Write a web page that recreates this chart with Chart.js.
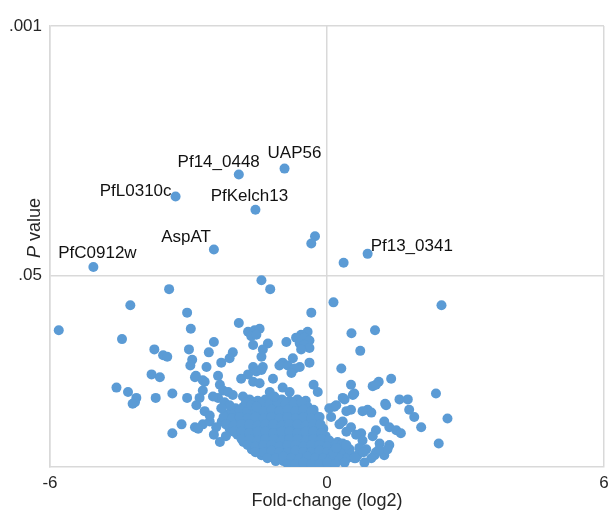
<!DOCTYPE html>
<html>
<head>
<meta charset="utf-8">
<script src="https://cdn.jsdelivr.net/npm/chart.js@4/dist/chart.umd.min.js"></script>
<style>
  html, body { margin: 0; padding: 0; background: #fff; }
  #wrap { width: 609px; height: 513px; position: relative; }
</style>
</head>
<body>
<div id="wrap"><canvas id="volcano"></canvas></div>
<script>
// x = log2 fold-change, y = -log10(P)
const xTickValues = [-6, 0, 6];
const yTickValues = [1.30103, 3];
const yTickLabels = ['.05', '.001'];

const geneNames = ['PfC0912w', 'AspAT', 'PfL0310c', 'Pf14_0448', 'UAP56', 'PfKelch13', 'Pf13_0341'];
const geneFoldChange = [-5.06, -2.45, -3.28, -1.91, -0.92, -1.55, 0.88];
const geneNegLogP = [1.36, 1.48, 1.84, 1.99, 2.03, 1.75, 1.45];

const nearCutoff = [[-0.26, 1.57], [-0.34, 1.52], [0.36, 1.39]];

const leftScatter = [
    [-5.81, 0.93], [-4.26, 1.10], [-4.44, 0.87], [-3.42, 1.21], [-3.03, 1.05], [-2.95, 0.94],
    [-3.74, 0.80], [-3.55, 0.76], [-3.46, 0.75], [-2.99, 0.80], [-2.45, 0.85], [-2.56, 0.78],
    [-2.92, 0.73], [-2.96, 0.69], [-2.61, 0.68], [-4.56, 0.54], [-4.31, 0.51], [-4.13, 0.47],
    [-4.16, 0.44], [-4.21, 0.43], [-3.71, 0.47], [-3.35, 0.50], [-3.03, 0.47], [-3.80, 0.63],
    [-3.62, 0.61], [-2.84, 0.62], [-2.69, 0.59], [-2.36, 0.62], [-3.35, 0.23], [-3.15, 0.29],
    [-2.79, 0.26], [-2.32, 0.17]
];

const leftWing = [
    [-2.86, 0.61], [-2.65, 0.58], [-2.69, 0.52], [-2.76, 0.47], [-2.83, 0.42], [-2.86, 0.27],
    [-2.69, 0.29], [-2.54, 0.31], [-2.40, 0.27], [-2.65, 0.38], [-2.54, 0.35], [-2.32, 0.56],
    [-2.25, 0.52], [-2.14, 0.51], [-2.04, 0.49], [-2.36, 0.47], [-2.22, 0.44], [-2.11, 0.42],
    [-2.29, 0.40], [-2.45, 0.22], [-2.19, 0.21], [-2.47, 0.48]
];

const midScatter = [
    [-1.91, 0.98], [-2.04, 0.78], [-2.11, 0.74], [-2.29, 0.71], [-1.42, 1.27], [-1.23, 1.21],
    [-0.34, 1.05], [-1.71, 0.92], [-1.57, 0.93], [-1.46, 0.94], [-1.64, 0.89], [-1.53, 0.90],
    [-1.60, 0.83], [-1.28, 0.84], [-1.39, 0.80], [-1.42, 0.75], [-0.88, 0.85], [-0.42, 0.92],
    [-0.56, 0.90], [-0.67, 0.88], [-0.49, 0.88], [-0.38, 0.86], [-0.59, 0.84], [-0.49, 0.83],
    [-0.38, 0.81], [-0.56, 0.80], [-0.38, 0.71], [-0.74, 0.74], [-0.96, 0.71], [-1.03, 0.69],
    [-0.59, 0.68], [-1.60, 0.68], [-1.39, 0.68], [-1.86, 0.60], [-1.71, 0.63], [-1.53, 0.65],
    [-1.60, 0.58], [-1.46, 0.57], [-1.82, 0.48], [-1.75, 0.44], [-1.64, 0.42], [-1.53, 0.41],
    [-1.42, 0.66], [-1.24, 0.51], [-1.17, 0.60], [-1.14, 0.48], [-0.96, 0.54], [-0.81, 0.51],
    [-0.85, 0.69], [-0.70, 0.67], [-0.77, 0.64], [-0.29, 0.56], [-0.20, 0.51]
];

const rightScatter = [
    [0.14, 1.12], [0.53, 0.91], [1.04, 0.93], [0.72, 0.79], [0.31, 0.67], [2.48, 1.10],
    [0.52, 0.56], [0.56, 0.49], [0.99, 0.55], [1.12, 0.58], [1.39, 0.60], [0.38, 0.46],
    [0.16, 0.41], [0.09, 0.34], [0.52, 0.39], [0.34, 0.31], [0.52, 0.27], [0.88, 0.39],
    [0.96, 0.37], [1.26, 0.43], [1.57, 0.46], [1.75, 0.46], [1.78, 0.39], [1.89, 0.34],
    [2.04, 0.27], [2.36, 0.50], [2.61, 0.33], [2.42, 0.16], [1.24, 0.31], [1.35, 0.27],
    [1.50, 0.25], [1.06, 0.25], [0.99, 0.21], [0.74, 0.23], [0.77, 0.18], [1.14, 0.16],
    [1.35, 0.15], [0.85, 0.12], [1.03, 0.08], [0.34, 0.16], [0.49, 0.12], [0.13, 0.10],
    [0.59, 0.50], [1.06, 0.56], [0.42, 0.38], [0.77, 0.38], [1.28, 0.42], [1.60, 0.23],
    [0.42, 0.24], [0.63, 0.22], [0.27, 0.29], [0.20, 0.13], [0.42, 0.15], [0.70, 0.13],
    [1.06, 0.10], [0.05, 0.40], [0.20, 0.42], [0.34, 0.47], [0.59, 0.06], [0.81, 0.03],
    [0.38, 0.03], [1.24, 0.08], [1.31, 0.12], [0.62, 0.06], [0.79, 0.10], [0.96, 0.06],
    [1.13, 0.12]
];

const denseCore = [
    [-1.68, 0.46], [-1.50, 0.45], [-1.33, 0.46], [-1.16, 0.44], [-0.98, 0.46], [-0.81, 0.45], [-0.64, 0.46], [-0.46, 0.45],
    [-1.98, 0.40], [-1.81, 0.41], [-1.63, 0.40], [-1.46, 0.41], [-1.29, 0.40], [-1.11, 0.41], [-0.94, 0.40], [-0.77, 0.41],
    [-0.59, 0.40], [-0.42, 0.41], [-0.29, 0.39],
    [-2.15, 0.36], [-1.98, 0.35], [-1.81, 0.36], [-1.63, 0.35], [-1.46, 0.36], [-1.29, 0.35], [-1.11, 0.36], [-0.94, 0.35],
    [-0.77, 0.36], [-0.59, 0.35], [-0.42, 0.36], [-0.25, 0.35],
    [-2.28, 0.31], [-2.11, 0.32], [-1.94, 0.31], [-1.76, 0.30], [-1.59, 0.31], [-1.42, 0.32], [-1.24, 0.31], [-1.07, 0.30],
    [-0.90, 0.31], [-0.72, 0.32], [-0.55, 0.31], [-0.38, 0.30], [-0.21, 0.31],
    [-2.11, 0.26], [-1.94, 0.27], [-1.76, 0.26], [-1.59, 0.27], [-1.42, 0.26], [-1.24, 0.27], [-1.07, 0.26], [-0.90, 0.27],
    [-0.72, 0.26], [-0.55, 0.27], [-0.38, 0.26], [-0.21, 0.27], [-0.08, 0.26],
    [-1.94, 0.22], [-1.76, 0.21], [-1.59, 0.22], [-1.42, 0.21], [-1.24, 0.22], [-1.07, 0.21], [-0.90, 0.22], [-0.72, 0.21],
    [-0.55, 0.22], [-0.38, 0.21], [-0.21, 0.22], [-0.03, 0.21],
    [-1.81, 0.17], [-1.63, 0.16], [-1.46, 0.17], [-1.29, 0.16], [-1.11, 0.17], [-0.94, 0.16], [-0.77, 0.17], [-0.59, 0.16],
    [-0.42, 0.17], [-0.25, 0.16], [-0.08, 0.17], [0.05, 0.16], [0.23, 0.17],
    [-1.63, 0.12], [-1.46, 0.13], [-1.29, 0.12], [-1.11, 0.13], [-0.94, 0.12], [-0.77, 0.13], [-0.59, 0.12], [-0.42, 0.13],
    [-0.25, 0.12], [-0.08, 0.13], [0.10, 0.12], [0.27, 0.13],
    [-1.42, 0.08], [-1.24, 0.08], [-1.07, 0.09], [-0.90, 0.08], [-0.72, 0.08], [-0.55, 0.09], [-0.38, 0.08], [-0.21, 0.08],
    [-0.03, 0.09], [0.14, 0.08], [0.31, 0.08], [0.49, 0.09], [0.66, 0.08],
    [-1.11, 0.04], [-0.94, 0.04], [-0.77, 0.05], [-0.59, 0.04], [-0.42, 0.04], [-0.25, 0.05], [-0.08, 0.04], [0.10, 0.04],
    [0.27, 0.05],
    [-0.59, 0.01], [-0.38, 0.01], [-0.16, 0.01], [0.01, 0.01]
];

// second layer of the crowded centre, sitting between the rows above
const denseCoreFill = [
    [-1.76, 0.43], [-1.59, 0.44], [-1.42, 0.43], [-1.24, 0.43], [-1.07, 0.44], [-0.90, 0.43], [-0.72, 0.43], [-0.55, 0.44],
    [-2.06, 0.38], [-1.89, 0.39], [-1.72, 0.38], [-1.55, 0.39], [-1.37, 0.38], [-1.20, 0.39], [-1.03, 0.38], [-0.85, 0.39],
    [-0.68, 0.38], [-0.51, 0.39], [-0.34, 0.38],
    [-2.24, 0.34], [-2.06, 0.33], [-1.89, 0.34], [-1.72, 0.33], [-1.55, 0.34], [-1.37, 0.33], [-1.20, 0.34], [-1.03, 0.33],
    [-0.85, 0.34], [-0.68, 0.33], [-0.51, 0.34], [-0.34, 0.33], [-0.16, 0.34],
    [-2.19, 0.29], [-2.02, 0.28], [-1.85, 0.29], [-1.68, 0.29], [-1.50, 0.28], [-1.33, 0.29], [-1.16, 0.29], [-0.98, 0.28],
    [-0.81, 0.29], [-0.64, 0.29], [-0.46, 0.28], [-0.29, 0.29], [-0.14, 0.29],
    [-2.02, 0.24], [-1.85, 0.24], [-1.68, 0.23], [-1.50, 0.24], [-1.33, 0.24], [-1.16, 0.23], [-0.98, 0.24], [-0.81, 0.24],
    [-0.64, 0.23], [-0.46, 0.24], [-0.29, 0.24], [-0.12, 0.23],
    [-1.85, 0.19], [-1.68, 0.19], [-1.50, 0.18], [-1.33, 0.19], [-1.16, 0.19], [-0.98, 0.18], [-0.81, 0.19], [-0.64, 0.19],
    [-0.46, 0.18], [-0.29, 0.19], [-0.12, 0.19], [0.05, 0.18],
    [-1.72, 0.15], [-1.55, 0.14], [-1.37, 0.15], [-1.20, 0.15], [-1.03, 0.14], [-0.85, 0.15], [-0.68, 0.15], [-0.51, 0.14],
    [-0.34, 0.15], [-0.16, 0.15], [0.01, 0.14], [0.18, 0.15],
    [-1.55, 0.10], [-1.37, 0.10], [-1.20, 0.11], [-1.03, 0.10], [-0.85, 0.10], [-0.68, 0.11], [-0.51, 0.10], [-0.34, 0.10],
    [-0.16, 0.11], [0.01, 0.10], [0.18, 0.10], [0.36, 0.11],
    [-1.29, 0.06], [-1.11, 0.06], [-0.94, 0.07], [-0.77, 0.06], [-0.59, 0.06], [-0.42, 0.07], [-0.25, 0.06], [-0.08, 0.06],
    [0.10, 0.07], [0.27, 0.06], [0.44, 0.06],
    [-0.85, 0.02], [-0.68, 0.02], [-0.51, 0.03], [-0.34, 0.02], [-0.16, 0.02], [0.01, 0.03], [0.18, 0.02]
];

const FONT = '"Liberation Sans", Arial, sans-serif';
const TEXT_COLOR = '#262626';
const GRID_COLOR = '#d9d9d9';
const DOT_COLOR = '#5b9bd5';

const toPoints = list => list.map(p => ({ x: p[0], y: p[1] }));

// where each gene name sits relative to its dot
const labelPlacement = {
    PfC0912w:  { dx: 4,   dy: -14, align: 'center' },
    AspAT:     { dx: -3,  dy: -12, align: 'right' },
    PfL0310c:  { dx: -4,  dy: -5,  align: 'right' },
    Pf14_0448: { dx: 21,  dy: -12, align: 'right' },
    UAP56:     { dx: -17, dy: -15, align: 'left' },
    PfKelch13: { dx: -6,  dy: -13, align: 'center' },
    Pf13_0341: { dx: 3,   dy: -8,  align: 'left' }
};

const geneLabels = {
    id: 'geneLabels',
    afterDatasetsDraw(chart) {
        const { ctx, scales: { x, y } } = chart;
        ctx.save();
        ctx.font = '17px ' + FONT;
        ctx.fillStyle = '#111';
        ctx.textBaseline = 'middle';
        geneNames.forEach((name, i) => {
            const p = labelPlacement[name];
            ctx.textAlign = p.align;
            ctx.fillText(name,
                x.getPixelForValue(geneFoldChange[i]) + p.dx,
                y.getPixelForValue(geneNegLogP[i]) + p.dy);
        });
        ctx.restore();
    }
};

// y title with italic P
const yTitle = {
    id: 'yTitle',
    afterDraw(chart) {
        const ctx = chart.ctx;
        const cx = 35, cy = 228;
        ctx.save();
        ctx.translate(cx, cy);
        ctx.rotate(-Math.PI / 2);
        ctx.fillStyle = TEXT_COLOR;
        ctx.textBaseline = 'middle';
        ctx.textAlign = 'left';
        const italic = 'italic 18px ' + FONT;
        const normal = '18px ' + FONT;
        ctx.font = italic;
        const wP = ctx.measureText('P').width;
        ctx.font = normal;
        const wRest = ctx.measureText(' value').width;
        const start = -(wP + wRest) / 2;
        ctx.font = italic;
        ctx.fillText('P', start, 0);
        ctx.font = normal;
        ctx.fillText(' value', start + wP, 0);
        ctx.restore();
    }
};

const dotStyle = {
    backgroundColor: DOT_COLOR,
    borderWidth: 0,
    pointRadius: 5,
    pointHoverRadius: 5
};

new Chart(document.getElementById('volcano'), {
    type: 'scatter',
    data: {
        datasets: [
            Object.assign({ data: toPoints([].concat(denseCore, denseCoreFill, leftWing, leftScatter, midScatter, rightScatter, nearCutoff)) }, dotStyle),
            Object.assign({ data: geneFoldChange.map((v, i) => ({ x: v, y: geneNegLogP[i] })) }, dotStyle)
        ]
    },
    options: {
        responsive: true,
        maintainAspectRatio: false,
        animation: false,
        layout: { padding: { top: 26, right: 4, left: 0, bottom: 0 } },
        plugins: {
            legend: { display: false },
            tooltip: { enabled: false }
        },
        scales: {
            x: {
                type: 'linear',
                min: -6,
                max: 6,
                afterBuildTicks: s => { s.ticks = xTickValues.map(v => ({ value: v })); },
                afterFit: s => { s.height = 46; s.paddingLeft = 0; s.paddingRight = 0; },
                ticks: {
                    color: TEXT_COLOR,
                    font: { family: FONT, size: 17 },
                    padding: 6,
                    maxRotation: 0,
                    autoSkip: false,
                    callback: v => String(v)
                },
                grid: { color: GRID_COLOR, lineWidth: 1.5, drawTicks: false },
                border: { color: GRID_COLOR, width: 1.5 },
                title: {
                    display: true,
                    text: 'Fold-change (log2)',
                    color: TEXT_COLOR,
                    font: { family: FONT, size: 18 },
                    padding: { top: 2, bottom: 1 }
                }
            },
            y: {
                type: 'linear',
                min: 0,
                max: 3,
                afterBuildTicks: s => { s.ticks = yTickValues.map(v => ({ value: v })); },
                afterFit: s => { s.width = 50; },
                ticks: {
                    color: TEXT_COLOR,
                    font: { family: FONT, size: 17 },
                    padding: 8,
                    callback: v => yTickLabels[yTickValues.indexOf(v)]
                },
                grid: { color: GRID_COLOR, lineWidth: 1.5, drawTicks: false },
                border: { color: GRID_COLOR, width: 1.5 }
            }
        }
    },
    plugins: [geneLabels, yTitle]
});
</script>
</body>
</html>
